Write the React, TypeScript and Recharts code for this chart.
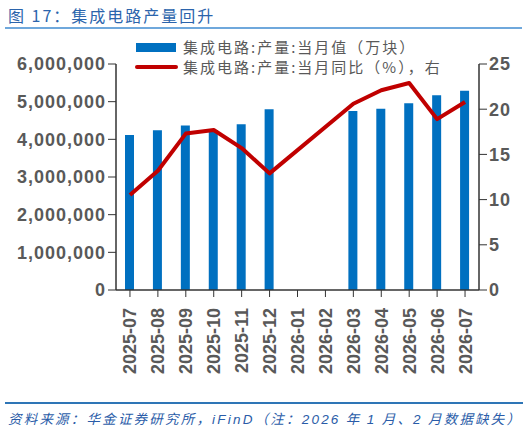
import { ComposedChart, Bar, Line, XAxis, YAxis } from 'recharts';

// monthly values
const months = [
  '2025-07', '2025-08', '2025-09', '2025-10', '2025-11', '2025-12',
  '2026-01', '2026-02', '2026-03', '2026-04', '2026-05', '2026-06', '2026-07',
];
// 当月值（万块） - Jan/Feb 2026 missing
const output = [
  4115000, 4240000, 4370000, 4250000, 4400000, 4800000,
  null, null, 4750000, 4810000, 4960000, 5170000, 5290000,
];
// 当月同比（%）
const yoy = [10.5, 13.2, 17.3, 17.7, 15.7, 12.9, null, null, 20.6, 22.1, 22.9, 18.9, 20.8];

const leftTicks = [0, 1000000, 2000000, 3000000, 4000000, 5000000, 6000000];
const rightTicks = [0, 5, 10, 15, 20, 25];

const data = months.map((m, i) => ({ month: m, output: output[i], yoy: yoy[i] }));

const tickFont = { fontFamily: 'Liberation Sans, Arial, sans-serif', fontWeight: 700, fontSize: 18, fill: '#595959' };
const cjk = '"Noto Sans CJK SC", sans-serif';
const latin = 'Liberation Sans, Arial, sans-serif';

function MonthTick(props: any) {
  const { x, y, payload } = props;
  return (
    <text
      x={x}
      y={y + 9}
      transform={`rotate(-90 ${x} ${y + 9})`}
      textAnchor="end"
      dy="0.36em"
      {...tickFont}
    >
      {payload.value}
    </text>
  );
}

function LegendBox() {
  const txt = { fontFamily: cjk, fontSize: 15, color: '#595959', letterSpacing: 2, lineHeight: '19px' };
  return (
    <div style={{ position: 'absolute', left: 130, top: 34, width: 380, height: 40 }}>
      <div style={{ position: 'absolute', left: 6, top: 9, width: 40, height: 9, background: '#0070C0' }} />
      <div style={{ position: 'absolute', left: 53, top: 3, whiteSpace: 'nowrap', ...txt }}>集成电路:产量:当月值（万块）</div>
      <div style={{ position: 'absolute', left: 5, top: 31, width: 43, height: 4, borderRadius: 2, background: '#C00000' }} />
      <div style={{ position: 'absolute', left: 53, top: 23, whiteSpace: 'nowrap', ...txt }}>
        集成电路:产量:当月同比（%），右
      </div>
    </div>
  );
}

export default function App() {
  return (
    <div style={{ position: 'absolute', left: 0, top: 0, width: 530, height: 432, background: '#fff', overflow: 'hidden' }}>
      <div style={{ position: 'absolute', left: 8, top: 3, fontFamily: cjk, fontSize: 16, color: '#2B64AC', whiteSpace: 'nowrap', letterSpacing: 2 }}>
        图 17：集成电路产量回升
      </div>
      <div style={{ position: 'absolute', left: 5, top: 27, width: 517, height: 2, background: '#6FA8DC' }} />

      <div style={{ position: 'absolute', left: 0, top: 0 }}>
        <ComposedChart width={530} height={390} data={data} margin={{ top: 64, right: 0, bottom: 0, left: 0 }}>
          <XAxis
            dataKey="month"
            interval={0}
            height={100}
            tick={<MonthTick />}
            tickSize={7}
            stroke="#333"
            axisLine={{ stroke: '#333', strokeWidth: 1.5 }}
          />
          <YAxis
            yAxisId="left"
            width={116}
            domain={[0, 6000000]}
            ticks={leftTicks}
            tickFormatter={(v: number) => v.toLocaleString('en-US')}
            tick={{ ...tickFont, letterSpacing: 1 }}
            tickSize={8}
            stroke="#333"
            axisLine={{ stroke: '#333', strokeWidth: 1.5 }}
          />
          <YAxis
            yAxisId="right"
            orientation="right"
            width={51}
            domain={[0, 25]}
            ticks={rightTicks}
            tick={{ ...tickFont, letterSpacing: 1 }}
            tickSize={8}
            stroke="#333"
            axisLine={{ stroke: '#333', strokeWidth: 1.5 }}
          />
          <Bar yAxisId="left" dataKey="output" fill="#0070C0" barSize={9} isAnimationActive={false} />
          <Line
            yAxisId="right"
            dataKey="yoy"
            stroke="#C00000"
            strokeWidth={4}
            dot={false}
            connectNulls
            strokeLinejoin="round"
            isAnimationActive={false}
          />
        </ComposedChart>
      </div>
      <LegendBox />

      <div style={{ position: 'absolute', left: 5, top: 402, width: 518, height: 2, background: '#2E75B6' }} />
      <div style={{ position: 'absolute', left: 8, top: 408, fontFamily: cjk, fontSize: 13.5, fontStyle: 'italic', color: '#2A5CA8', whiteSpace: 'nowrap', letterSpacing: 2.2 }}>
        资料来源：华金证券研究所，<span style={{ fontFamily: latin }}>iFinD</span>（注：<span style={{ fontFamily: latin }}>2026</span> 年 <span style={{ fontFamily: latin }}>1</span> 月、<span style={{ fontFamily: latin }}>2</span> 月数据缺失）
      </div>
    </div>
  );
}
